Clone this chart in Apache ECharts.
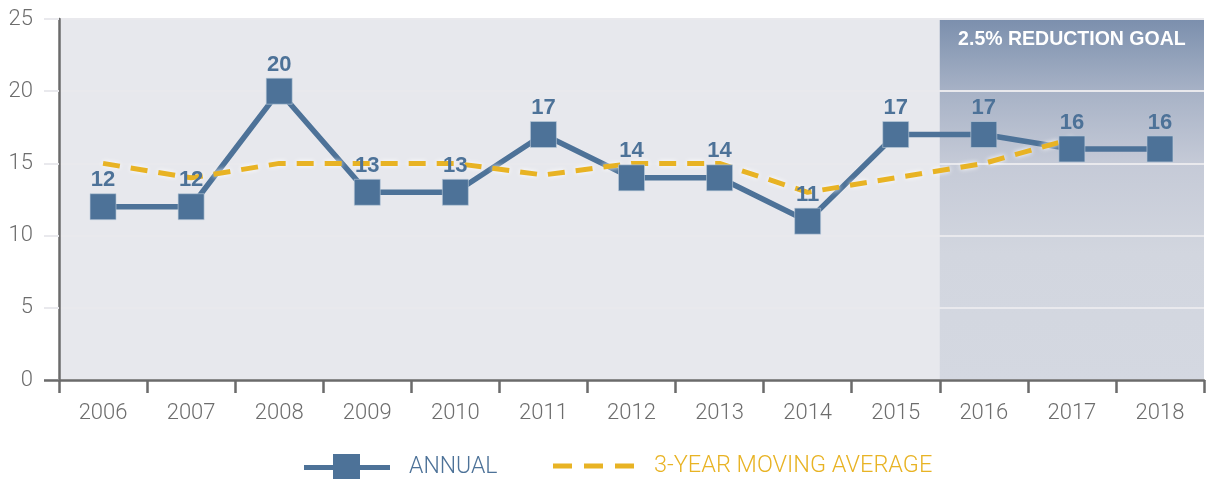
<!DOCTYPE html>
<html>
<head>
<meta charset="utf-8">
<script src="https://cdn.jsdelivr.net/npm/echarts@6/dist/echarts.min.js"></script>
<style>
  html, body { margin: 0; padding: 0; background: #ffffff; }
  #chart { width: 1207px; height: 479px; }
</style>
</head>
<body>
<div id="chart"></div>
<script>
// ---- data ----
const years = ['2006','2007','2008','2009','2010','2011','2012','2013','2014','2015','2016','2017','2018'];
const annual = [12, 12, 20, 13, 13, 17, 14, 14, 11, 17, 17, 16, 16];
const movingAvg = [15, 14, 15, 15, 15, 14.2, 15, 15, 13, 14, 15, 16.7, null];
const yMin = 0;
const yMax = 25;
const yInterval = 5;
const goalLabel = '2.5% REDUCTION GOAL';
const goalStartYear = '2016';
const annualName = 'ANNUAL';
const maName = '3-YEAR MOVING AVERAGE';

// ---- styles ----
const BLUE = '#4d7298';
const GOLD = '#e8b324';
const AXIS = '#6b6b6b';
const LABEL = '#6d6d6d';
const GRIDLINE = '#e9e9ed';
const THIN = 'Roboto, "DejaVu Sans Condensed", sans-serif';
const BOLD = '"Liberation Sans", Arial, sans-serif';

const goalStart = years.indexOf(goalStartYear);
const goalEnd = years.length;

const chart = echarts.init(document.getElementById('chart'), null, { renderer: 'canvas' });

const option = {
  animation: false,
  backgroundColor: '#ffffff',
  grid: {
    left: 59, right: 3, top: 19, bottom: 99,
    show: true, backgroundColor: '#e7e8ed', borderWidth: 0
  },
  legend: [
    {
      data: [{ name: annualName, icon: 'path://M0,11L29,11L29,0L56,0L56,11L86,11L86,16L56,16L56,27L29,27L29,16L0,16Z' }],
      left: 304, top: 454, padding: 0,
      itemWidth: 86, itemHeight: 27,
      itemStyle: { borderWidth: 0 },
      textStyle: { color: BLUE, fontFamily: THIN, fontWeight: 300, fontSize: 23, padding: [0, 0, 0, 14] },
      selectedMode: false
    },
    {
      data: [{ name: maName, icon: 'path://M0,0L19,0L19,5L0,5Z M31,0L50,0L50,5L31,5Z M62,0L81,0L81,5L62,5Z' }],
      left: 553, top: 454, padding: 0,
      itemWidth: 81, itemHeight: 5,
      itemStyle: { borderWidth: 0 },
      textStyle: { color: GOLD, fontFamily: THIN, fontWeight: 300, fontSize: 23.5, padding: [0, 0, 0, 15] },
      selectedMode: false
    }
  ],
  xAxis: [
    {
      type: 'category',
      data: years,
      boundaryGap: true,
      z: 2,
      axisLine: { show: true, lineStyle: { color: AXIS, width: 2.5 } },
      axisTick: { show: true, length: 13, alignWithLabel: false, lineStyle: { color: AXIS, width: 2.5 } },
      axisLabel: { color: LABEL, fontFamily: THIN, fontWeight: 300, fontSize: 22, margin: 22 },
      splitLine: { show: false }
    },
    {
      type: 'value',
      min: 0, max: goalEnd,
      show: false
    }
  ],
  yAxis: [
    {
      type: 'value',
      min: yMin, max: yMax, interval: yInterval,
      z: 2,
      axisLine: { show: true, lineStyle: { color: AXIS, width: 2.5 } },
      axisTick: { show: true, length: 15, lineStyle: { color: GRIDLINE, width: 2 } },
      axisLabel: { color: LABEL, fontFamily: THIN, fontWeight: 300, fontSize: 22, margin: 26 },
      splitLine: { show: true, lineStyle: { color: GRIDLINE, width: 2 } }
    },
    {
      type: 'value',
      min: yMin, max: yMax, interval: yInterval,
      position: 'left',
      z: 3,
      axisLine: { show: false },
      axisLabel: { show: false },
      splitLine: { show: false },
      axisTick: { show: true, length: 15, customValues: [yMin], lineStyle: { color: AXIS, width: 2.5 } }
    }
  ],
  series: [
    {
      name: 'goal',
      type: 'line',
      xAxisIndex: 1,
      yAxisIndex: 0,
      data: [],
      z: 1,
      silent: true,
      markArea: {
        silent: true,
        itemStyle: {
          color: {
            type: 'linear', x: 0, y: 0, x2: 0, y2: 1,
            colorStops: [
              { offset: 0, color: '#7b8fad' },
              { offset: 0.2, color: '#a7b2c6' },
              { offset: 0.4, color: '#c5cad7' },
              { offset: 0.65, color: '#d2d6df' },
              { offset: 1, color: '#d4d8e1' }
            ]
          }
        },
        label: {
          show: true, position: 'insideTop', distance: 11,
          color: '#ffffff', fontFamily: BOLD, fontWeight: 'bold', fontSize: 19.5
        },
        data: [[
          { name: goalLabel, xAxis: goalStart, yAxis: yMax },
          { xAxis: goalEnd, yAxis: yMin }
        ]]
      }
    },
    {
      name: annualName,
      type: 'line',
      data: annual,
      z: 3,
      symbol: 'none',
      itemStyle: { color: BLUE },
      lineStyle: { color: BLUE, width: 5.5 }
    },
    {
      name: maName,
      type: 'line',
      data: movingAvg,
      z: 4,
      symbol: 'none',
      connectNulls: false,
      itemStyle: { color: GOLD },
      lineStyle: {
        color: GOLD, width: 5, type: [17, 11],
        shadowColor: 'rgba(255,255,255,0.95)', shadowBlur: 5
      }
    },
    {
      name: annualName,
      type: 'scatter',
      data: annual,
      z: 5,
      symbol: 'rect',
      symbolSize: 26,
      itemStyle: { color: BLUE, borderColor: 'rgba(190,205,220,0.6)', borderWidth: 1, opacity: 1 },
      label: {
        show: true, position: 'top', distance: 2,
        color: BLUE, fontFamily: BOLD, fontWeight: 'bold', fontSize: 22
      }
    }
  ]
};

chart.setOption(option);
</script>
</body>
</html>
